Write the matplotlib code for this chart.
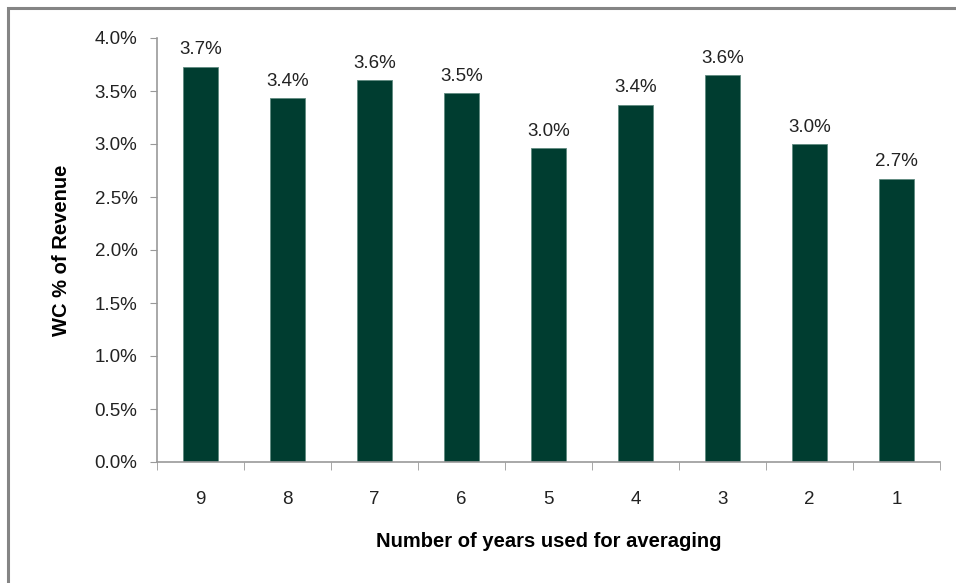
import numpy as np
import matplotlib.pyplot as plt
from matplotlib.patches import Rectangle
from matplotlib.ticker import FuncFormatter, FixedLocator

plt.rcParams['font.family'] = ['Liberation Sans', 'DejaVu Sans']

# data
years = ['9', '8', '7', '6', '5', '4', '3', '2', '1']
wc_pct = [3.73, 3.43, 3.60, 3.48, 2.96, 3.37, 3.65, 3.00, 2.67]
labels = ['3.7%', '3.4%', '3.6%', '3.5%', '3.0%', '3.4%', '3.6%', '3.0%', '2.7%']

fig = plt.figure(figsize=(9.56, 5.83), dpi=100)
ax = fig.add_axes([157/956, 1 - 462/583, (940 - 157)/956, (462 - 38)/583])

x = np.arange(len(years))
ax.bar(x, wc_pct, width=0.4, color='#003d30', edgecolor='#5f8a80', linewidth=0.6)

for xi, v, lab in zip(x, wc_pct, labels):
    ax.text(xi, v + 0.08, lab, ha='center', va='bottom', fontsize=13.5, color='#222222')

ax.set_xlim(-0.5, len(years) - 0.5)
ax.set_ylim(0, 4.0)
ax.set_yticks(np.arange(0, 4.01, 0.5))
ax.yaxis.set_major_formatter(FuncFormatter(lambda v, p: f'{v:.1f}%'))

ax.set_xticks(x)
ax.set_xticklabels(years)
ax.xaxis.set_minor_locator(FixedLocator(np.arange(-0.5, len(years), 1.0)))
ax.tick_params(axis='x', which='major', length=0, pad=21, labelsize=13.5, labelcolor='#222222')
ax.tick_params(axis='x', which='minor', length=6, color='#999999', direction='out')
ax.tick_params(axis='y', length=5, color='#999999', pad=9, labelsize=13.5, labelcolor='#222222')

for s in ['top', 'right']:
    ax.spines[s].set_visible(False)
for s in ['left', 'bottom']:
    ax.spines[s].set_color('#999999')
    ax.spines[s].set_linewidth(1.2)

ax.set_ylabel('WC % of Revenue', fontsize=14.5, fontweight='bold', labelpad=17)
ax.set_xlabel('Number of years used for averaging', fontsize=14.5, fontweight='bold', labelpad=17)

# outer frame (cut by image edge on right and bottom)
fig.patches.append(Rectangle((8/956, -0.1), 1.2, 1.1 - 8/583, transform=fig.transFigure,
                             fill=False, edgecolor='#858585', linewidth=2.2))

fig.savefig('out.png', dpi=100)
